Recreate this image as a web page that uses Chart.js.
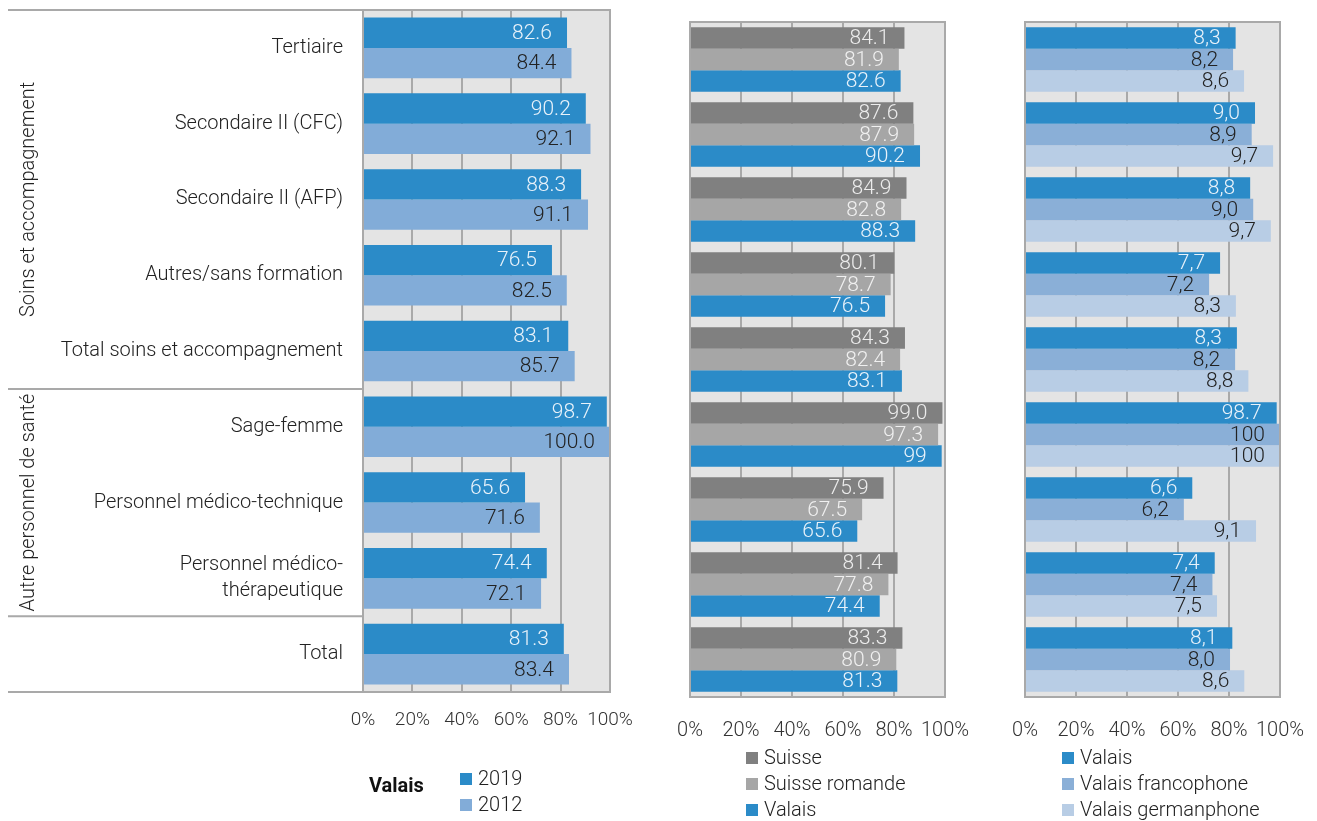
<!DOCTYPE html>
<html>
<head>
<meta charset="utf-8">
<script src="https://cdn.jsdelivr.net/npm/chart.js@4/dist/chart.umd.min.js"></script>
<style>
  body { margin: 0; background: #fff; font-family: Roboto, sans-serif; }
  #wrap { position: relative; width: 1317px; height: 821px; overflow: hidden; }
  canvas { position: absolute; left: 0; top: 0; }
  .legend { position: absolute; font-size: 20px; font-weight: 300; color: #222; }
  .legend div { height: 26px; line-height: 26px; white-space: nowrap; }
  .legend span { display: inline-block; width: 12px; height: 12px; margin-right: 6px; vertical-align: 0px; }
  .ltitle { position: absolute; font-weight: 700; font-size: 20px; color: #111; }
</style>
</head>
<body>
<div id="wrap">
  <canvas id="c1" width="1317" height="821"></canvas>
  <canvas id="c2" width="1317" height="821"></canvas>
  <canvas id="c3" width="1317" height="821"></canvas>
  <div class="ltitle" style="left:369px; top:773px;">Valais</div>
  <div class="legend" id="leg1" style="left:460px; top:765px;"></div>
  <div class="legend" id="leg2" style="left:746px; top:744px;"></div>
  <div class="legend" id="leg3" style="left:1062px; top:744px;"></div>
</div>
<script>
// categories
const categories = [
  'Tertiaire',
  'Secondaire II (CFC)',
  'Secondaire II (AFP)',
  'Autres/sans formation',
  'Total soins et accompagnement',
  'Sage-femme',
  'Personnel médico-technique',
  ['Personnel médico-', 'thérapeutique'],
  'Total'
]
const groups = ['Soins et accompagnement', 'Autre personnel de santé']

// panel 1 : Valais 2019 / 2012
const valais2019 = [82.6, 90.2, 88.3, 76.5, 83.1, 98.7, 65.6, 74.4, 81.3]
const valais2012 = [84.4, 92.1, 91.1, 82.5, 85.7, 100.0, 71.6, 72.1, 83.4]

// panel 2 : Suisse / Suisse romande / Valais
const suisse = [84.1, 87.6, 84.9, 80.1, 84.3, 99.0, 75.9, 81.4, 83.3]
const suisseRomande = [81.9, 87.9, 82.8, 78.7, 82.4, 97.3, 67.5, 77.8, 80.9]
const valais = [82.6, 90.2, 88.3, 76.5, 83.1, 98.7, 65.6, 74.4, 81.3]
const valaisLabels = ['82.6', '90.2', '88.3', '76.5', '83.1', '99', '65.6', '74.4', '81.3']

// panel 3 : Valais / francophone / germanophone
const valaisFr = [81.6, 88.9, 89.5, 72.2, 82.4, 100, 62.3, 73.5, 80.4]
const valaisDe = [85.9, 97.3, 96.4, 82.7, 87.6, 100, 90.6, 75.3, 86.0]
const valaisLabels3 = ['8,3', '9,0', '8,8', '7,7', '8,3', '98.7', '6,6', '7,4', '8,1']
const valaisFrLabels = ['8,2', '8,9', '9,0', '7,2', '8,2', '100', '6,2', '7,4', '8,0']
const valaisDeLabels = ['8,6', '9,7', '9,7', '8,3', '8,8', '100', '9,1', '7,5', '8,6']

const xTicks = [0, 20, 40, 60, 80, 100]

const BLUE = '#2b8bc8'
const BLUE_L = '#82acd8'
const GREY_D = '#808080'
const GREY_L = '#a6a6a6'
const FR = '#8aafd7'
const DE = '#b8cde5'
const GRID = '#a9a9a9'

Chart.defaults.font.family = 'Roboto'
Chart.defaults.font.weight = 300
Chart.defaults.color = '#222'

// gray plot background + frame
const bgPlugin = {
  id: 'bg',
  beforeDraw(chart) {
    const { ctx, chartArea: a } = chart
    ctx.save()
    ctx.fillStyle = '#e4e4e4'
    ctx.fillRect(a.left, a.top, a.right - a.left, a.bottom - a.top)
    ctx.restore()
  },
  afterDraw(chart) {
    const { ctx, chartArea: a } = chart
    ctx.save()
    ctx.strokeStyle = GRID
    ctx.lineWidth = 2
    ctx.strokeRect(a.left, a.top, a.right - a.left, a.bottom - a.top)
    ctx.restore()
  }
}

// value labels at the inner end of each bar
const valueLabels = {
  id: 'valueLabels',
  afterDatasetsDraw(chart) {
    const ctx = chart.ctx
    ctx.save()
    ctx.font = '300 21px Roboto'
    ctx.textAlign = 'right'
    ctx.textBaseline = 'middle'
    chart.data.datasets.forEach((ds, di) => {
      const meta = chart.getDatasetMeta(di)
      meta.data.forEach((bar, i) => {
        const txt = ds.valueText ? ds.valueText[i] : ds.data[i].toFixed(1)
        ctx.fillStyle = ds.labelColor
        ctx.fillText(txt, bar.x - 15, bar.y + 1)
      })
    })
    ctx.restore()
  }
}

// group titles and separators left of panel 1
const groupPlugin = {
  id: 'groups',
  afterDraw(chart) {
    const { ctx, chartArea: a } = chart
    const step = (a.bottom - a.top) / categories.length
    ctx.save()
    ctx.strokeStyle = GRID
    ctx.lineWidth = 2
    ;[0, 5, 8, 9].forEach(k => {
      const yy = a.top + k * step
      ctx.beginPath()
      ctx.moveTo(8, yy)
      ctx.lineTo(a.left, yy)
      ctx.stroke()
    })
    ctx.fillStyle = '#222'
    ctx.font = '300 20px Roboto'
    ctx.textAlign = 'center'
    ctx.textBaseline = 'middle'
    const spans = [[0, 5], [5, 8]]
    spans.forEach((s, gi) => {
      const cy = a.top + (s[0] + s[1]) / 2 * step
      ctx.save()
      ctx.translate(29, cy)
      ctx.rotate(-Math.PI / 2)
      ctx.fillText(groups[gi], 0, 0)
      ctx.restore()
    })
    ctx.restore()
  }
}

function noPad(s) {
  s.paddingTop = 0
  s.paddingBottom = 0
  s.paddingLeft = 0
  s.paddingRight = 0
}

function makePanel(id, datasets, area, opts) {
  const yWidth = opts.showCats ? area.left : 0
  return new Chart(document.getElementById(id), {
    type: 'bar',
    data: { labels: categories, datasets: datasets },
    options: {
      indexAxis: 'y',
      responsive: false,
      animation: false,
      devicePixelRatio: 1,
      layout: {
        padding: {
          left: opts.showCats ? 0 : area.left,
          right: 1317 - area.right,
          top: area.top,
          bottom: 821 - area.bottom - 40
        }
      },
      datasets: { bar: { categoryPercentage: opts.catPct, barPercentage: 1 } },
      plugins: { legend: { display: false }, tooltip: { enabled: false } },
      scales: {
        x: {
          min: 0, max: 100,
          afterFit(s) { s.height = 40; noPad(s) },
          afterBuildTicks(s) { s.ticks = xTicks.map(v => ({ value: v })) },
          grid: { color: GRID, lineWidth: 2, drawTicks: false },
          border: { display: false },
          ticks: {
            padding: opts.tickPad,
            color: '#333',
            autoSkip: false,
            maxRotation: 0,
            minRotation: 0,
            font: { size: opts.tickSize, weight: 300 },
            callback: v => v + '%'
          }
        },
        y: {
          afterFit(s) { s.width = yWidth; noPad(s) },
          grid: { display: false },
          border: { display: false },
          ticks: {
            display: !!opts.showCats,
            padding: 12,
            color: '#222',
            font: { size: 20, weight: 300, lineHeight: 1.3 }
          }
        }
      }
    },
    plugins: opts.showCats ? [bgPlugin, valueLabels, groupPlugin] : [bgPlugin, valueLabels]
  })
}

makePanel('c1', [
  { label: '2019', data: valais2019, backgroundColor: BLUE, labelColor: '#e8f2fa' },
  { label: '2012', data: valais2012, backgroundColor: BLUE_L, labelColor: '#222' }
], { left: 363, right: 610, top: 10, bottom: 692 }, { showCats: true, catPct: 0.8, tickPad: 17, tickSize: 19 })

makePanel('c2', [
  { label: 'Suisse', data: suisse, backgroundColor: GREY_D, labelColor: '#ececec' },
  { label: 'Suisse romande', data: suisseRomande, backgroundColor: GREY_L, labelColor: '#f0f0f0' },
  { label: 'Valais', data: valais, valueText: valaisLabels, backgroundColor: BLUE, labelColor: '#e8f2fa' }
], { left: 690, right: 945, top: 22, bottom: 697 }, { catPct: 0.86, tickPad: 22, tickSize: 20 })

makePanel('c3', [
  { label: 'Valais', data: valais, valueText: valaisLabels3, backgroundColor: BLUE, labelColor: '#e8f2fa' },
  { label: 'Valais francophone', data: valaisFr, valueText: valaisFrLabels, backgroundColor: FR, labelColor: '#222' },
  { label: 'Valais germanphone', data: valaisDe, valueText: valaisDeLabels, backgroundColor: DE, labelColor: '#222' }
], { left: 1025, right: 1280, top: 22, bottom: 697 }, { catPct: 0.86, tickPad: 22, tickSize: 20 })

// html legends
function legend(el, items) {
  document.getElementById(el).innerHTML = items
    .map(it => '<div><span style="background:' + it[1] + '"></span>' + it[0] + '</div>')
    .join('')
}
legend('leg1', [['2019', BLUE], ['2012', BLUE_L]])
legend('leg2', [['Suisse', GREY_D], ['Suisse romande', GREY_L], ['Valais', BLUE]])
legend('leg3', [['Valais', BLUE], ['Valais francophone', FR], ['Valais germanphone', DE]])
</script>
</body>
</html>
